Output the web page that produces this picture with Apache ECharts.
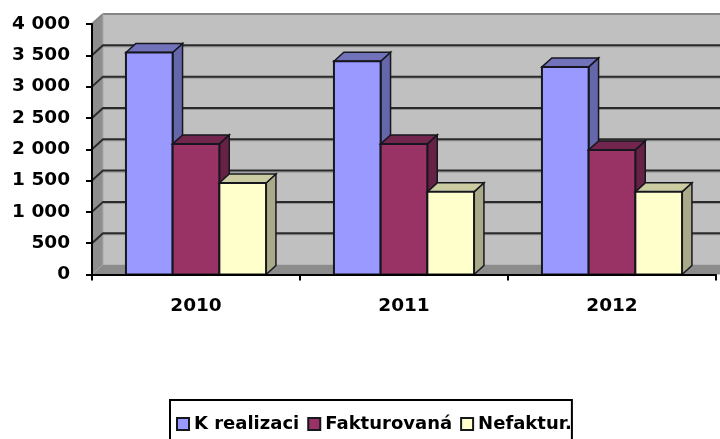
<!DOCTYPE html>
<html><head><meta charset="utf-8">
<style>html,body{margin:0;padding:0;background:#fff;overflow:hidden}#c{width:720px;height:439px}</style>
<script src="https://cdn.jsdelivr.net/npm/echarts@6/dist/echarts.min.js"></script>
</head><body><div id="c"></div>
<script>
const years = ['2010', '2011', '2012'];
const kRealizaci = [3545, 3405, 3315];
const fakturovana = [2085, 2085, 1990];
const nefaktur = [1460, 1320, 1320];
const yTicks = [500, 1000, 1500, 2000, 2500, 3000, 3500];

const DX = 11, DY = -10;
const chart = echarts.init(document.getElementById('c'));

function poly(points, fill, stroke, lw) {
  return { type: 'polygon', shape: { points }, style: { fill, stroke: stroke || 'none', lineWidth: lw || 0 } };
}

function wallItem(params, api) {
  const c = params.coordSys;
  const l = c.x, r = c.x + c.width + 30, t = c.y, b = c.y + c.height;
  return { type: 'group', children: [
    poly([[l + DX, t + DY], [r, t + DY], [r, b + DY], [l + DX, b + DY]], '#c0c0c0'),
    poly([[l, t], [l + DX, t + DY], [l + DX, b + DY], [l, b]], '#8e8e8e'),
    poly([[l, b], [l + DX, b + DY], [r, b + DY], [r, b]], '#8c8c8c'),
    { type: 'line', shape: { x1: l + DX, y1: t + DY, x2: r, y2: t + DY }, style: { stroke: '#858585', lineWidth: 2 } },
    { type: 'line', shape: { x1: l + DX, y1: t + DY, x2: l, y2: t }, style: { stroke: '#858585', lineWidth: 2 } },
    { type: 'line', shape: { x1: l + DX, y1: t + DY, x2: l + DX, y2: b + DY }, style: { stroke: '#a8a8a8', lineWidth: 1 } }
  ] };
}

function gridItem(params, api) {
  const c = params.coordSys;
  const p = api.coord([0, api.value(0)]);
  const y = p[1], l = c.x, r = c.x + c.width + 30;
  return { type: 'group', children: [
    { type: 'line', shape: { x1: l + DX, y1: y + DY + 1.5, x2: r, y2: y + DY + 1.5 }, style: { stroke: '#8f8f8f', lineWidth: 1 } },
    { type: 'polyline', shape: { points: [[l, y], [l + DX, y + DY], [r, y + DY]] }, style: { stroke: '#2a2a2a', lineWidth: 2, fill: 'none' } }
  ] };
}

function barRender(offset, front, side, top) {
  return function (params, api) {
    const bw = api.size([1, 0])[0] * 0.2245;
    const p = api.coord([api.value(0), api.value(1)]);
    const o = api.coord([api.value(0), 0]);
    const x0 = p[0] + (offset - 0.5) * bw, x1 = x0 + bw;
    const y0 = p[1], y1 = o[1];
    const edge = '#16161e';
    return { type: 'group', children: [
      poly([[x1, y0], [x1 + DX * 0.9, y0 + DY * 0.9], [x1 + DX * 0.9, y1 + DY * 0.9], [x1, y1]], side, edge, 1.5),
      poly([[x0, y0], [x0 + DX * 0.9, y0 + DY * 0.9], [x1 + DX * 0.9, y0 + DY * 0.9], [x1, y0]], top, edge, 1.5),
      poly([[x0, y0], [x1, y0], [x1, y1], [x0, y1]], front, edge, 2)
    ] };
  };
}

function barSeries(name, values, offset, front, side, top) {
  return {
    name, type: 'custom', z: 3,
    coordinateSystem: 'cartesian2d',
    renderItem: barRender(offset, front, side, top),
    encode: { x: 0, y: 1 },
    itemStyle: { color: front, borderColor: '#16161e', borderWidth: 2 },
    clip: false,
    data: values.map((v, i) => [i, v])
  };
}

const labelFont = { fontFamily: 'DejaVu Sans', fontWeight: 'bold', fontSize: 18.5, color: '#000' };

chart.setOption({
  animation: false,
  backgroundColor: '#fff',
  grid: { left: 92, right: 4, top: 24, height: 250.5, containLabel: false },
  xAxis: {
    type: 'category', data: years, z: 5,
    axisLine: { lineStyle: { color: '#000', width: 2 } },
    axisTick: { show: true, alignWithLabel: false, length: 6, lineStyle: { color: '#000', width: 2 } },
    axisLabel: Object.assign({}, labelFont, { margin: 22 }),
    splitLine: { show: false }
  },
  yAxis: {
    type: 'value', min: 0, max: 4000, interval: 500, z: 5,
    axisLine: { show: true, lineStyle: { color: '#000', width: 2 } },
    axisTick: { show: true, length: 6, lineStyle: { color: '#000', width: 2 } },
    axisLabel: Object.assign({}, labelFont, { margin: 22, formatter: v => String(v).replace(/\B(?=(\d{3})+$)/g, ' ') }),
    splitLine: { show: false }
  },
  legend: {
    left: 170, top: 400, orient: 'horizontal',
    data: ['K realizaci', 'Fakturovaná', 'Nefaktur.'],
    itemWidth: 12, itemHeight: 12, itemGap: 8,
    icon: 'rect',
    padding: [15, 0, 10, 6],
    borderColor: '#000', borderWidth: 2,
    textStyle: { fontFamily: 'DejaVu Sans', fontWeight: 'bold', fontSize: 18, color: '#000' }
  },
  series: [
    { type: 'custom', name: 'wall', z: 1, clip: false, coordinateSystem: 'cartesian2d', renderItem: wallItem, data: [[0, 0]], silent: true },
    { type: 'custom', name: 'grid', z: 2, clip: false, coordinateSystem: 'cartesian2d', renderItem: gridItem, encode: { y: 0 }, data: yTicks.map(v => [v]), silent: true },
    barSeries('K realizaci', kRealizaci, -1, '#9999ff', '#6666aa', '#7272bb'),
    barSeries('Fakturovaná', fakturovana, 0, '#993366', '#662244', '#73264d'),
    barSeries('Nefaktur.', nefaktur, 1, '#ffffcc', '#aaaa88', '#cccca3')
  ]
});
</script></body></html>
